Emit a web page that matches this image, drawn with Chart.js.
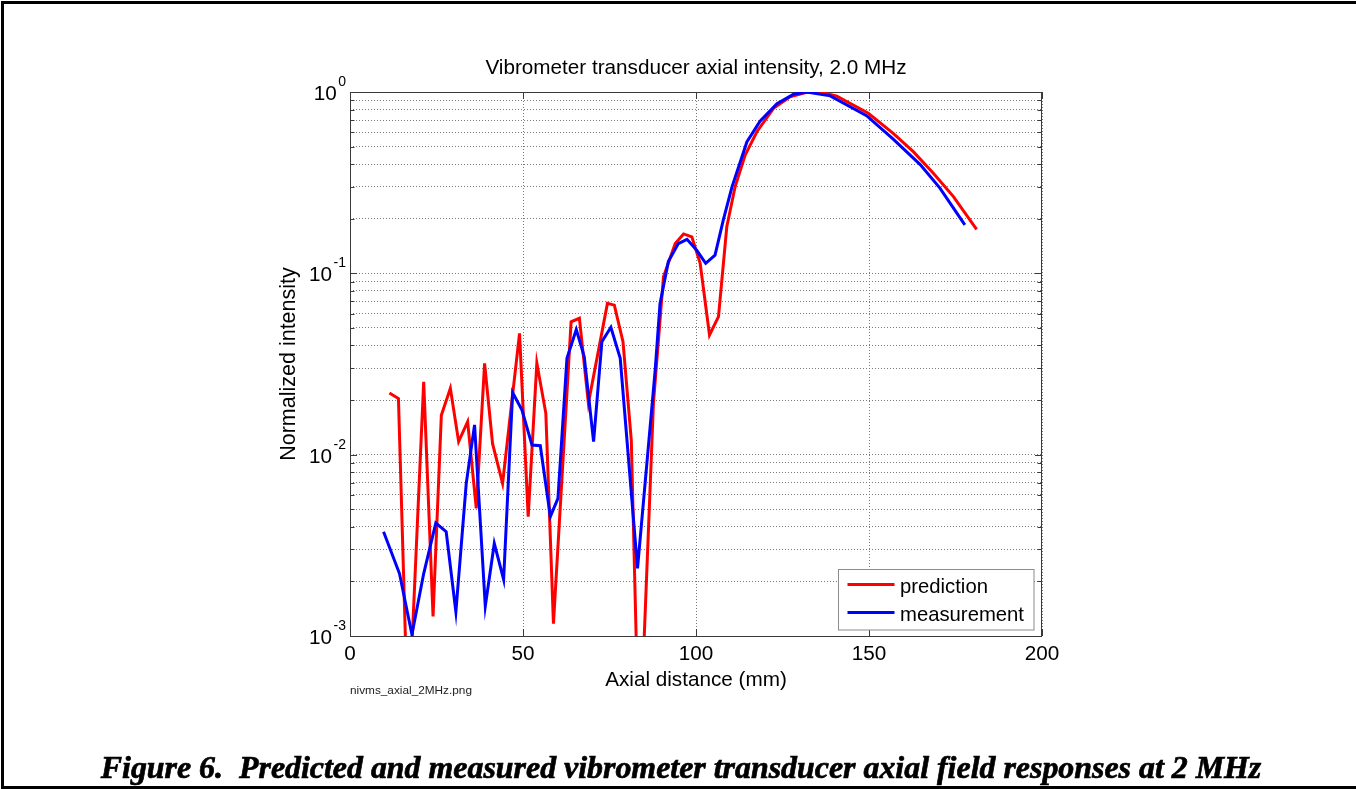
<!DOCTYPE html>
<html>
<head>
<meta charset="utf-8">
<title>Vibrometer transducer axial intensity, 2.0 MHz</title>
<script src="https://cdn.jsdelivr.net/npm/chart.js@4.4.0/dist/chart.umd.min.js"></script>
<style>
  html, body { margin: 0; padding: 0; background: #fff; overflow: hidden; }
  #fig { display: block; }
</style>
</head>
<body>
<canvas id="fig" width="1356" height="789"></canvas>
<script>
// axial distance (mm) and normalized intensity
var predX = [11.4, 14.0, 16.8, 21.3, 24.0, 26.4, 29.0, 31.4, 34.0, 36.5, 38.9, 41.2, 44.1, 49.0, 51.5, 54.0, 56.6, 58.8, 63.9, 66.3, 68.9, 74.4, 76.4, 78.9, 81.3, 83.6, 87.7, 90.6, 94.0, 96.4, 98.8, 101.2, 103.9, 106.5, 108.9, 111.3, 114.2, 117.6, 122.4, 127.2, 132.0, 135.9, 140.7, 149.8, 157.0, 162.8, 168.6, 174.4, 181.1]
var predY = [0.0219, 0.0204, 0.0003, 0.0252, 0.00128, 0.0165, 0.0232, 0.0118, 0.0152, 0.00506, 0.0319, 0.0115, 0.00695, 0.0467, 0.00455, 0.032, 0.0169, 0.00117, 0.054, 0.0565, 0.0192, 0.0683, 0.0668, 0.042, 0.012, 0.0002, 0.0192, 0.0958, 0.146, 0.165, 0.159, 0.1136, 0.0457, 0.0577, 0.181, 0.30, 0.449, 0.604, 0.813, 0.942, 0.995, 1.0, 0.948, 0.763, 0.592, 0.469, 0.356, 0.265, 0.175]
var measX = [9.7, 14.3, 17.9, 21.3, 24.8, 27.8, 30.6, 33.6, 36.0, 39.1, 41.7, 44.4, 47.0, 49.7, 52.6, 55.0, 57.9, 60.1, 62.7, 65.4, 67.7, 70.4, 72.8, 75.4, 78.1, 83.1, 88.2, 89.6, 92.0, 94.9, 97.4, 100.2, 102.8, 105.5, 107.9, 110.4, 114.7, 118.5, 123.4, 128.2, 132.0, 138.8, 149.3, 157.0, 164.8, 170.5, 177.7]
var measY = [0.00376, 0.00221, 0.00102, 0.00221, 0.0042, 0.00376, 0.00136, 0.00695, 0.0146, 0.00146, 0.00324, 0.00205, 0.022, 0.0176, 0.0113, 0.0112, 0.00455, 0.00574, 0.034, 0.049, 0.0347, 0.0118, 0.042, 0.0504, 0.034, 0.00236, 0.0293, 0.068, 0.116, 0.146, 0.154, 0.134, 0.1135, 0.126, 0.197, 0.30, 0.53, 0.69, 0.862, 0.972, 1.0, 0.952, 0.74, 0.55, 0.398, 0.295, 0.185]

var seriesNames = ["prediction", "measurement"]
var xTicks = [0, 50, 100, 150, 200]
var yExps = [-3, -2, -1, 0]          // decade labels 10^n
var yMinor = [1, 2, 3, 4, 5, 6, 7, 8, 9]

var titleText = "Vibrometer transducer axial intensity, 2.0 MHz"
var fileText = "nivms_axial_2MHz.png"
var captionText = "Figure 6.  Predicted and measured vibrometer transducer axial field responses at 2 MHz"

var SANS = '"Liberation Sans", Arial, Helvetica, sans-serif'
var FS = 20.7

Chart.defaults.font.family = SANS
Chart.defaults.color = '#000'

var yTickVals = []
yExps.forEach(function (e) {
  if (e == yExps[yExps.length - 1]) { yTickVals.push(Math.pow(10, e)); return }
  yMinor.forEach(function (m) { yTickVals.push(+(m * Math.pow(10, e)).toPrecision(3)) })
})

function pts(xs, ys) { return xs.map(function (x, i) { return {x: x, y: ys[i]} }) }

var figPlugin = {
  id: 'figure',
  beforeDatasetsDraw: function (chart) {
    var ctx = chart.ctx, a = chart.chartArea, xs = chart.scales.x, ys = chart.scales.y
    ctx.save()
    ctx.strokeStyle = '#3a3a3a'
    ctx.lineWidth = 1
    ctx.strokeRect(a.left + 0.5, a.top + 0.5, a.right - a.left - 1, a.bottom - a.top)
    ctx.beginPath()
    ys.ticks.forEach(function (t) {
      var y = Math.round(ys.getPixelForValue(t.value)) + 0.5
      var lg = Math.log10(t.value)
      var len = Math.abs(lg - Math.round(lg)) < 1e-6 ? 7 : 4.5
      ctx.moveTo(a.left, y); ctx.lineTo(a.left + len, y)
      ctx.moveTo(a.right, y); ctx.lineTo(a.right - len, y)
    })
    xs.ticks.forEach(function (t) {
      var x = Math.round(xs.getPixelForValue(t.value)) + 0.5
      ctx.moveTo(x, a.bottom); ctx.lineTo(x, a.bottom - 7)
      ctx.moveTo(x, a.top); ctx.lineTo(x, a.top + 7)
    })
    ctx.stroke()

    // y decade labels 10^n
    ctx.fillStyle = '#000'
    ctx.textBaseline = 'alphabetic'
    yExps.forEach(function (e) {
      var y = ys.getPixelForValue(Math.pow(10, e))
      var sup = String(e)
      ctx.font = '14px ' + SANS
      var sw = ctx.measureText(sup).width
      var right = a.left - 4
      ctx.textAlign = 'right'
      ctx.fillText(sup, right, y - 6)
      ctx.font = FS + 'px ' + SANS
      ctx.fillText('10', right - sw - 1.5, y + 8)
    })
    ctx.restore()
  },
  afterDraw: function (chart) {
    var ctx = chart.ctx, a = chart.chartArea
    ctx.save()
    ctx.fillStyle = '#000'
    ctx.textBaseline = 'alphabetic'

    // title
    ctx.font = FS + 'px ' + SANS
    ctx.textAlign = 'center'
    ctx.fillText(titleText, (a.left + a.right) / 2, 74)

    // legend
    var lx = 838.5, ly = 569.5, lw = 195.5, lh = 60.5
    ctx.fillStyle = '#fff'
    ctx.fillRect(lx, ly, lw, lh)
    ctx.strokeStyle = '#8c8c8c'
    ctx.lineWidth = 1
    ctx.strokeRect(lx, ly, lw, lh)
    ctx.textAlign = 'left'
    ctx.font = '20.3px ' + SANS
    chart.data.datasets.forEach(function (ds, i) {
      var y = 584.5 + i * 28
      ctx.strokeStyle = ds.borderColor
      ctx.lineWidth = 3
      ctx.beginPath()
      ctx.moveTo(lx + 9, y); ctx.lineTo(lx + 56, y)
      ctx.stroke()
      ctx.fillStyle = '#000'
      ctx.fillText(ds.label, lx + 61.5, y + 8)
    })

    // file name under the axes
    ctx.fillStyle = '#222'
    ctx.font = '11.8px ' + SANS
    ctx.fillText(fileText, a.left, 694)

    // caption, slightly heavier than the plain bold face
    ctx.fillStyle = '#000'
    ctx.strokeStyle = '#000'
    ctx.lineWidth = 0.7
    ctx.font = 'italic bold 31.9px "Liberation Serif", "Times New Roman", serif'
    ctx.textAlign = 'center'
    ctx.fillText(captionText, 681, 778)
    ctx.strokeText(captionText, 681, 778)

    // page frame
    ctx.fillRect(1, 1, 3, 788)
    ctx.fillRect(1, 1, chart.width, 3)
    ctx.fillRect(1, 786, chart.width, 3)
    ctx.restore()
  }
}

new Chart(document.getElementById('fig'), {
  type: 'line',
  data: {
    datasets: [{
      label: seriesNames[0],
      data: pts(predX, predY),
      borderColor: '#ff0000',
      borderWidth: 3,
      pointRadius: 0,
      tension: 0,
      fill: false,
      order: 1
    }, {
      label: seriesNames[1],
      data: pts(measX, measY),
      borderColor: '#0000ff',
      borderWidth: 3,
      pointRadius: 0,
      tension: 0,
      fill: false,
      order: 0
    }]
  },
  options: {
    responsive: false,
    animation: false,
    devicePixelRatio: 1,
    events: [],
    layout: {padding: {left: 270, right: 314, top: 92, bottom: 93}},
    plugins: {legend: {display: false}, title: {display: false}, tooltip: {enabled: false}},
    scales: {
      x: {
        type: 'linear', position: 'bottom', min: 0, max: 200,
        afterBuildTicks: function (s) { s.ticks = xTicks.map(function (v) { return {value: v} }) },
        afterFit: function (s) { s.height = 60; s.paddingLeft = 0; s.paddingRight = 0 },
        ticks: {font: {size: FS}, color: '#000', padding: 6.2, maxRotation: 0, autoSkip: false},
        grid: {color: '#7a7a7a', lineWidth: 1, drawTicks: false},
        border: {display: false, dash: [1, 2]},
        title: {display: true, text: 'Axial distance (mm)', font: {size: FS}, color: '#000', padding: {top: 0, bottom: 2.8}}
      },
      y: {
        type: 'logarithmic', position: 'left', min: 0.001, max: 1,
        afterBuildTicks: function (s) { s.ticks = yTickVals.map(function (v) { return {value: v} }) },
        afterFit: function (s) { s.width = 80; s.paddingTop = 0; s.paddingBottom = 0 },
        ticks: {display: false},
        grid: {color: '#7a7a7a', lineWidth: 1, drawTicks: false},
        border: {display: false, dash: [1, 2]},
        title: {display: true, text: 'Normalized intensity', font: {size: 21.5}, color: '#000', padding: {top: 6, bottom: 0}}
      }
    }
  },
  plugins: [figPlugin]
})
</script>
</body>
</html>
